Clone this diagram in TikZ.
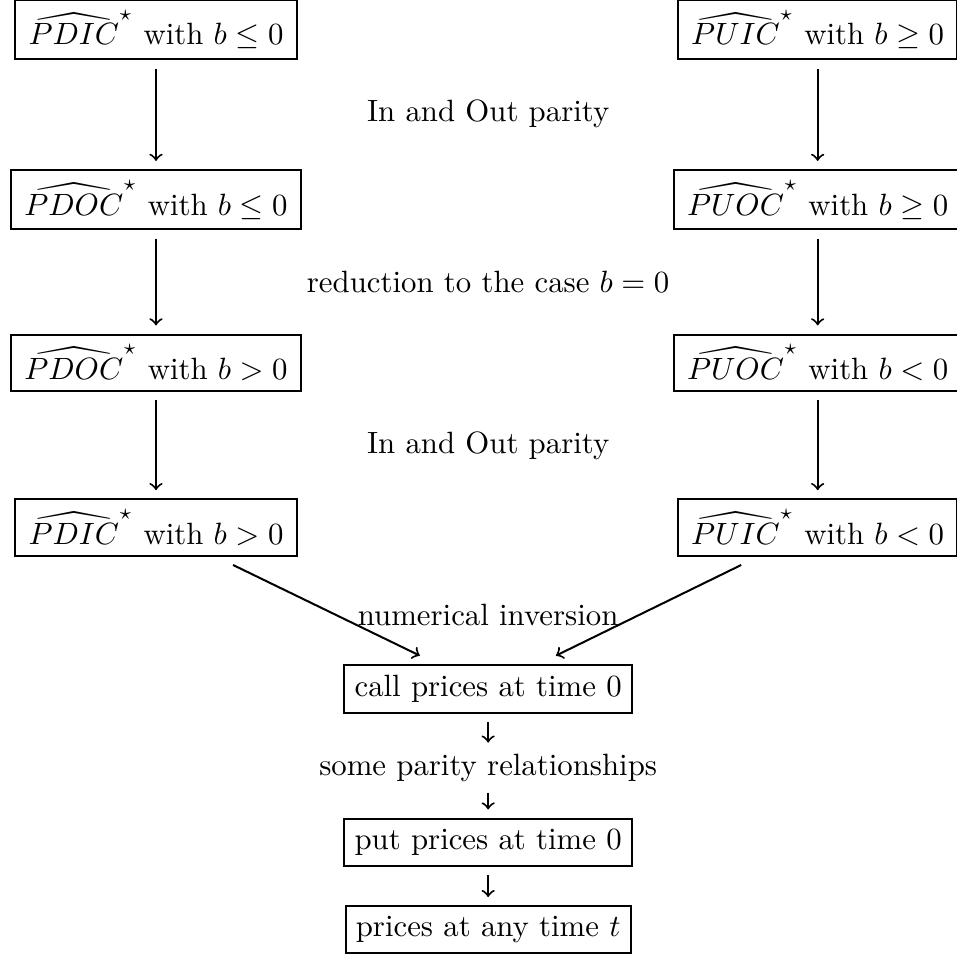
\documentclass[tikz,border=0pt]{standalone}
\usepackage{amssymb}
\tikzset{
  box/.style={draw, inner sep=3.33pt, outer sep=3pt},
  colbox/.style={box, inner xsep=4.3pt},
  step label/.style={inner sep=3.33pt}
}
\begin{document}
\begin{tikzpicture}[line width=0.65pt]
	\useasboundingbox (0,0) rectangle (10.92,10.91);
	% down-and-in / down-and-out column
	\foreach \opt/\rel/\y [count=\index] in {PDIC/\le/10.57, PDOC/\le/8.63, PDOC/>/6.77, PDIC/>/4.89}
	{
		\node[colbox] (down\index) at (1.78,\y) {$\widehat{\opt}^{\star}$ with $b \rel 0$};
	}
	% up-and-in / up-and-out column
	\foreach \opt/\rel/\y [count=\index] in {PUIC/\ge/10.57, PUOC/\ge/8.63, PUOC/</6.77, PUIC/</4.89}
	{
		\node[colbox] (up\index) at (9.33,\y) {$\widehat{\opt}^{\star}$ with $b \rel 0$};
	}
	\foreach \index in {2,...,4}
	{
		% column arrows
		\pgfmathtruncatemacro{\prev}{\index - 1};
		\draw[->] (down\prev) -- (down\index);
		\draw[->] (up\prev) -- (up\index);
	}
	% labels between the rows
	\node[step label] (parity1) at (5.57,9.61) {In and Out parity};
	\node[step label] (reduction) at (5.57,7.69) {reduction to the case $b=0$};
	\node[step label] (parity2) at (5.57,5.82) {In and Out parity};
	% bottom chain
	\node[step label] (inversion) at (5.57,3.89) {numerical inversion};
	\node[box] (call) at (5.57,3.05) {call prices at time 0};
	\node[step label] (relations) at (5.57,2.15) {some parity relationships};
	\node[box] (put) at (5.57,1.30) {put prices at time 0};
	\node[box] (prices) at (5.57,0.30) {prices at any time $t$};
	\draw[->] (down4) -- (call);
	\draw[->] (up4) -- (call);
	\draw[->] (call) -- (relations);
	\draw[->] (relations) -- (put);
	\draw[->] (put) -- (prices);
\end{tikzpicture}
\end{document}
